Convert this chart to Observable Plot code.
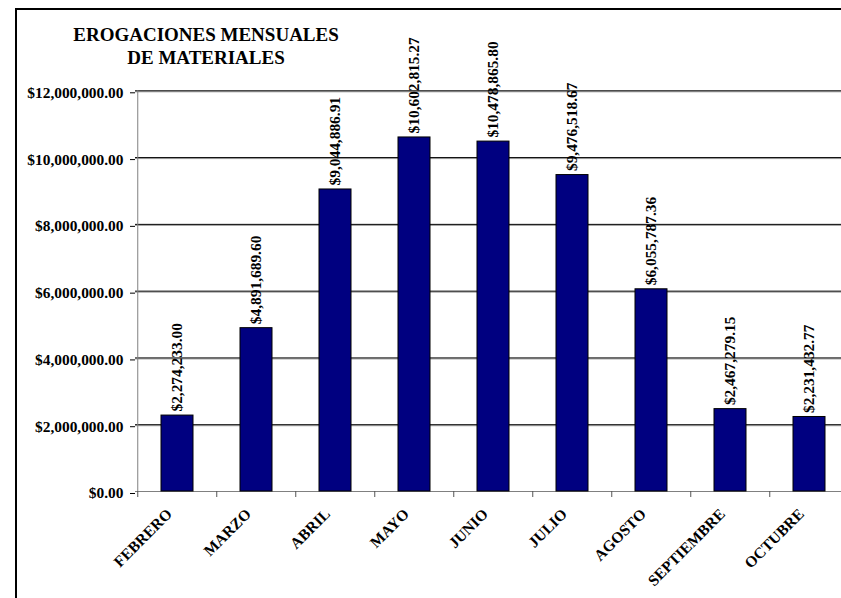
<!DOCTYPE html>
<html>
<head>
<meta charset="utf-8">
<script src="https://cdn.jsdelivr.net/npm/d3@7"></script>
<script src="https://cdn.jsdelivr.net/npm/@observablehq/plot@0.6"></script>
<style>
  html, body { margin: 0; padding: 0; background: #fff; overflow: hidden; width: 841px; height: 598px; }
  #frame { position: absolute; left: 15px; top: 8px; width: 900px; height: 700px; border: 2px solid #000; box-sizing: border-box; }
  #title { position: absolute; left: 56px; top: 23px; width: 300px; text-align: center;
           font-family: "Liberation Serif", "Times New Roman", serif; font-weight: bold; font-size: 19px; line-height: 23px; color: #000; }
  #chart { position: absolute; left: 0; top: 0; }
</style>
</head>
<body>
<div id="frame"></div>
<div id="chart"></div>
<div id="title">EROGACIONES MENSUALES<br>DE MATERIALES</div>
<script>
const months = ["FEBRERO","MARZO","ABRIL","MAYO","JUNIO","JULIO","AGOSTO","SEPTIEMBRE","OCTUBRE"];
const amounts = [2274233.00, 4891689.60, 9044886.91, 10602815.27, 10478865.80, 9476518.67, 6055787.36, 2467279.15, 2231432.77];
const yTicks = [0, 2000000, 4000000, 6000000, 8000000, 10000000, 12000000];

const data = months.map((m, i) => ({month: m, amount: amounts[i]}));
const fmt = d3.format("$,.2f");
const step = (850.8 - 135.3) / months.length;

const chart = Plot.plot({
  width: 841,
  height: 598,
  marginTop: 90,
  marginBottom: 107,
  marginLeft: 135,
  marginRight: 0,
  style: {fontFamily: "'Liberation Serif', 'Times New Roman', serif", background: "transparent", color: "#000"},
  x: {domain: months, range: [135.3, 850.8], paddingInner: 0.6, paddingOuter: 0.3, label: null},
  y: {domain: [0, 12000000], range: [491, 90.3], label: null},
  marks: [
    Plot.ruleY(yTicks.filter(d => d > 0), {stroke: "#999", dy: 1}),
    Plot.ruleY(yTicks.filter(d => d > 0), {stroke: "#000", strokeWidth: 1}),
    Plot.ruleY([0], {stroke: "#808080"}),
    Plot.ruleX([months[0]], {dx: -step / 2, y1: 0, y2: 12000000, stroke: "#808080"}),
    Plot.barY(data, {x: "month", y: "amount", fill: "#000080", stroke: "#000", strokeWidth: 1}),
    Plot.text(data, {x: "month", y: "amount", text: d => fmt(d.amount), rotate: -90, textAnchor: "start", dy: -4,
                     fontSize: 15.4, fontWeight: "bold", fill: "#000"}),
    Plot.axisY({ticks: yTicks, tickFormat: fmt, tickSize: 5, tickPadding: 7, fontSize: 15.4, fontWeight: "bold", dy: 2, label: null}),
    Plot.axisX({tickSize: 6, tickFormat: () => "", dx: -step / 2, stroke: "#555", label: null}),
    Plot.axisX({tickSize: 0, tickPadding: 20, tickRotate: -45, dx: -8, fontSize: 15.5, fontWeight: "bold", label: null})
  ]
});
document.getElementById("chart").appendChild(chart);
</script>
</body>
</html>
